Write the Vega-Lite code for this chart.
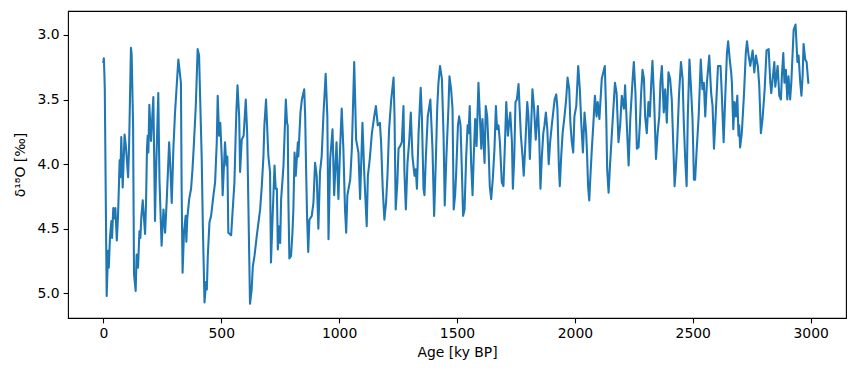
{
  "$schema": "https://vega.github.io/schema/vega-lite/v6.json",
  "width": 778,
  "height": 307,
  "autosize": {"type": "none"},
  "padding": {"left": 68, "top": 11, "right": 6, "bottom": 53},
  "background": "white",
  "config": {
    "view": {"stroke": "black", "strokeWidth": 1.1},
    "font": "DejaVu Sans",
    "axis": {
      "grid": false,
      "domain": false,
      "tickColor": "black",
      "tickWidth": 1.1,
      "tickSize": 4.9,
      "labelFont": "DejaVu Sans",
      "labelFontSize": 13.9,
      "labelColor": "black",
      "titleFont": "DejaVu Sans",
      "titleFontSize": 13.9,
      "titleFontWeight": "normal",
      "titleColor": "black"
    }
  },
  "data": {"values": [
    {"age": 0, "d18O": 3.21}, {"age": 2, "d18O": 3.18}, {"age": 4, "d18O": 3.28}, {"age": 6, "d18O": 3.41},
    {"age": 14, "d18O": 5.02}, {"age": 20, "d18O": 4.67}, {"age": 23, "d18O": 4.8}, {"age": 28, "d18O": 4.57},
    {"age": 34, "d18O": 4.44}, {"age": 37, "d18O": 4.57}, {"age": 42, "d18O": 4.34}, {"age": 46, "d18O": 4.42},
    {"age": 51, "d18O": 4.34}, {"age": 57, "d18O": 4.59}, {"age": 62, "d18O": 4.41}, {"age": 65, "d18O": 4.23},
    {"age": 69, "d18O": 3.97}, {"age": 72, "d18O": 4.1}, {"age": 76, "d18O": 3.79}, {"age": 82, "d18O": 4.18},
    {"age": 90, "d18O": 3.77}, {"age": 96, "d18O": 3.87}, {"age": 105, "d18O": 4.1}, {"age": 109, "d18O": 3.87},
    {"age": 117, "d18O": 3.1}, {"age": 120, "d18O": 3.15}, {"age": 126, "d18O": 3.69}, {"age": 130, "d18O": 4.85},
    {"age": 137, "d18O": 4.98}, {"age": 141, "d18O": 4.7}, {"age": 147, "d18O": 4.8}, {"age": 153, "d18O": 4.52},
    {"age": 157, "d18O": 4.57}, {"age": 161, "d18O": 4.41}, {"age": 167, "d18O": 4.28}, {"age": 173, "d18O": 4.44},
    {"age": 177, "d18O": 4.54}, {"age": 181, "d18O": 4.3}, {"age": 185, "d18O": 3.88}, {"age": 188, "d18O": 3.78},
    {"age": 191, "d18O": 3.91}, {"age": 195, "d18O": 3.54},
    {"age": 202, "d18O": 3.82}, {"age": 212, "d18O": 3.48}, {"age": 216, "d18O": 4.01}, {"age": 219, "d18O": 4.44},
    {"age": 223, "d18O": 4.09}, {"age": 233, "d18O": 3.45}, {"age": 238, "d18O": 4.12}, {"age": 247, "d18O": 4.63},
    {"age": 255, "d18O": 4.35}, {"age": 262, "d18O": 4.53}, {"age": 269, "d18O": 4.27}, {"age": 279, "d18O": 3.83},
    {"age": 284, "d18O": 4.01}, {"age": 290, "d18O": 4.3}, {"age": 297, "d18O": 3.88}, {"age": 304, "d18O": 3.6},
    {"age": 318, "d18O": 3.19}, {"age": 329, "d18O": 3.37}, {"age": 332, "d18O": 4.19}, {"age": 336, "d18O": 4.84},
    {"age": 342, "d18O": 4.53}, {"age": 349, "d18O": 4.4}, {"age": 352, "d18O": 4.6}, {"age": 356, "d18O": 4.42},
    {"age": 364, "d18O": 4.27}, {"age": 372, "d18O": 4.19}, {"age": 378, "d18O": 4.04}, {"age": 383, "d18O": 3.88},
    {"age": 392, "d18O": 3.55}, {"age": 400, "d18O": 3.11}, {"age": 406, "d18O": 3.16}, {"age": 410, "d18O": 3.45},
    {"age": 417, "d18O": 3.94}, {"age": 422, "d18O": 4.48}, {"age": 429, "d18O": 5.07}, {"age": 436, "d18O": 4.91},
    {"age": 439, "d18O": 4.97}, {"age": 443, "d18O": 4.71}, {"age": 450, "d18O": 4.45}, {"age": 457, "d18O": 4.4},
    {"age": 467, "d18O": 4.24}, {"age": 474, "d18O": 4.14}, {"age": 481, "d18O": 3.83}, {"age": 485, "d18O": 3.47},
    {"age": 491, "d18O": 3.78}, {"age": 496, "d18O": 3.68}, {"age": 502, "d18O": 3.94}, {"age": 506, "d18O": 4.24},
    {"age": 516, "d18O": 3.83}, {"age": 522, "d18O": 4.01}, {"age": 526, "d18O": 3.94}, {"age": 530, "d18O": 4.53},
    {"age": 542, "d18O": 4.55}, {"age": 547, "d18O": 4.4}, {"age": 556, "d18O": 4.14}, {"age": 560, "d18O": 3.86},
    {"age": 564, "d18O": 3.6}, {"age": 569, "d18O": 3.39}, {"age": 576, "d18O": 3.63}, {"age": 580, "d18O": 4.06},
    {"age": 587, "d18O": 3.81}, {"age": 595, "d18O": 3.78}, {"age": 604, "d18O": 3.5}, {"age": 610, "d18O": 3.76},
    {"age": 615, "d18O": 4.3}, {"age": 622, "d18O": 5.08}, {"age": 629, "d18O": 4.97}, {"age": 634, "d18O": 4.79},
    {"age": 641, "d18O": 4.71}, {"age": 651, "d18O": 4.55}, {"age": 658, "d18O": 4.45}, {"age": 665, "d18O": 4.35},
    {"age": 672, "d18O": 4.17}, {"age": 679, "d18O": 3.94}, {"age": 683, "d18O": 3.7}, {"age": 690, "d18O": 3.5},
    {"age": 700, "d18O": 3.94}, {"age": 707, "d18O": 4.06}, {"age": 711, "d18O": 4.76}, {"age": 718, "d18O": 4.4},
    {"age": 726, "d18O": 4.01}, {"age": 731, "d18O": 4.19}, {"age": 736, "d18O": 4.19}, {"age": 740, "d18O": 4.66},
    {"age": 745, "d18O": 4.48}, {"age": 750, "d18O": 4.61}, {"age": 754, "d18O": 4.27}, {"age": 760, "d18O": 4.12},
    {"age": 764, "d18O": 4.01}, {"age": 774, "d18O": 3.5}, {"age": 779, "d18O": 3.68}, {"age": 782, "d18O": 3.7},
    {"age": 785, "d18O": 4.3}, {"age": 789, "d18O": 4.73}, {"age": 796, "d18O": 4.71}, {"age": 802, "d18O": 4.53},
    {"age": 806, "d18O": 4.35}, {"age": 811, "d18O": 3.91}, {"age": 816, "d18O": 4.09}, {"age": 825, "d18O": 3.83},
    {"age": 827, "d18O": 3.94}, {"age": 836, "d18O": 3.6}, {"age": 842, "d18O": 3.5}, {"age": 852, "d18O": 3.42},
    {"age": 856, "d18O": 3.63}, {"age": 860, "d18O": 4.04}, {"age": 864, "d18O": 4.4}, {"age": 869, "d18O": 4.68},
    {"age": 874, "d18O": 4.43}, {"age": 884, "d18O": 4.4}, {"age": 891, "d18O": 4.3}, {"age": 898, "d18O": 3.99},
    {"age": 905, "d18O": 4.09}, {"age": 912, "d18O": 4.5}, {"age": 919, "d18O": 4.06}, {"age": 926, "d18O": 3.94},
    {"age": 934, "d18O": 3.6}, {"age": 943, "d18O": 3.3}, {"age": 950, "d18O": 3.63}, {"age": 955, "d18O": 4.58},
    {"age": 962, "d18O": 3.96}, {"age": 972, "d18O": 3.73}, {"age": 979, "d18O": 4.24}, {"age": 989, "d18O": 3.83},
    {"age": 997, "d18O": 4.27}, {"age": 1004, "d18O": 3.88}, {"age": 1011, "d18O": 3.57}, {"age": 1018, "d18O": 3.88},
    {"age": 1025, "d18O": 4.35}, {"age": 1030, "d18O": 4.53}, {"age": 1035, "d18O": 4.24}, {"age": 1047, "d18O": 4.12},
    {"age": 1054, "d18O": 3.88}, {"age": 1064, "d18O": 3.21}, {"age": 1068, "d18O": 3.5}, {"age": 1072, "d18O": 3.81},
    {"age": 1082, "d18O": 3.91}, {"age": 1089, "d18O": 4.27}, {"age": 1099, "d18O": 3.68}, {"age": 1107, "d18O": 4.09},
    {"age": 1117, "d18O": 4.48}, {"age": 1122, "d18O": 4.09}, {"age": 1130, "d18O": 3.96}, {"age": 1139, "d18O": 3.76},
    {"age": 1149, "d18O": 3.63}, {"age": 1156, "d18O": 3.55}, {"age": 1164, "d18O": 3.7}, {"age": 1173, "d18O": 3.68},
    {"age": 1178, "d18O": 3.83}, {"age": 1185, "d18O": 4.19}, {"age": 1192, "d18O": 4.43}, {"age": 1199, "d18O": 4.3},
    {"age": 1205, "d18O": 4.09}, {"age": 1212, "d18O": 3.73}, {"age": 1221, "d18O": 3.5}, {"age": 1231, "d18O": 3.33},
    {"age": 1235, "d18O": 3.63}, {"age": 1240, "d18O": 4.35}, {"age": 1247, "d18O": 4.14}, {"age": 1252, "d18O": 3.88},
    {"age": 1259, "d18O": 3.86}, {"age": 1266, "d18O": 3.83}, {"age": 1273, "d18O": 3.55}, {"age": 1277, "d18O": 4.06},
    {"age": 1283, "d18O": 4.35}, {"age": 1290, "d18O": 3.99}, {"age": 1297, "d18O": 3.83}, {"age": 1304, "d18O": 3.6},
    {"age": 1311, "d18O": 3.94}, {"age": 1320, "d18O": 4.09}, {"age": 1325, "d18O": 4.04}, {"age": 1330, "d18O": 4.19},
    {"age": 1337, "d18O": 3.76}, {"age": 1346, "d18O": 3.41}, {"age": 1351, "d18O": 3.63}, {"age": 1358, "d18O": 4.19},
    {"age": 1362, "d18O": 4.24}, {"age": 1368, "d18O": 3.94}, {"age": 1376, "d18O": 3.63}, {"age": 1387, "d18O": 3.5},
    {"age": 1396, "d18O": 3.88}, {"age": 1403, "d18O": 4.4}, {"age": 1410, "d18O": 3.99}, {"age": 1416, "d18O": 3.57},
    {"age": 1421, "d18O": 3.38}, {"age": 1428, "d18O": 3.24}, {"age": 1436, "d18O": 3.34}, {"age": 1443, "d18O": 3.78},
    {"age": 1448, "d18O": 4.32}, {"age": 1455, "d18O": 3.94}, {"age": 1464, "d18O": 3.55}, {"age": 1468, "d18O": 3.32},
    {"age": 1475, "d18O": 3.42}, {"age": 1481, "d18O": 3.57}, {"age": 1486, "d18O": 4.35}, {"age": 1492, "d18O": 4.24},
    {"age": 1496, "d18O": 4.09}, {"age": 1504, "d18O": 3.7}, {"age": 1509, "d18O": 3.63}, {"age": 1515, "d18O": 3.7},
    {"age": 1520, "d18O": 4.01}, {"age": 1526, "d18O": 4.4}, {"age": 1532, "d18O": 4.35}, {"age": 1539, "d18O": 3.94},
    {"age": 1545, "d18O": 3.7}, {"age": 1549, "d18O": 3.76}, {"age": 1554, "d18O": 3.55}, {"age": 1560, "d18O": 3.99},
    {"age": 1566, "d18O": 4.24}, {"age": 1571, "d18O": 3.94}, {"age": 1577, "d18O": 3.65}, {"age": 1583, "d18O": 3.86},
    {"age": 1591, "d18O": 3.37}, {"age": 1597, "d18O": 3.63}, {"age": 1603, "d18O": 3.88}, {"age": 1608, "d18O": 3.65},
    {"age": 1617, "d18O": 3.99}, {"age": 1622, "d18O": 3.55}, {"age": 1628, "d18O": 3.63}, {"age": 1634, "d18O": 3.88},
    {"age": 1639, "d18O": 4.17}, {"age": 1645, "d18O": 4.27}, {"age": 1652, "d18O": 4.11}, {"age": 1659, "d18O": 3.88},
    {"age": 1665, "d18O": 3.55}, {"age": 1670, "d18O": 3.73}, {"age": 1676, "d18O": 3.7}, {"age": 1682, "d18O": 3.83},
    {"age": 1690, "d18O": 4.14}, {"age": 1697, "d18O": 4.17}, {"age": 1703, "d18O": 3.86}, {"age": 1709, "d18O": 3.52},
    {"age": 1716, "d18O": 3.78}, {"age": 1720, "d18O": 3.7}, {"age": 1726, "d18O": 3.6}, {"age": 1733, "d18O": 3.83},
    {"age": 1737, "d18O": 4.19}, {"age": 1743, "d18O": 3.94}, {"age": 1748, "d18O": 3.52}, {"age": 1754, "d18O": 3.5},
    {"age": 1761, "d18O": 3.38}, {"age": 1771, "d18O": 3.78}, {"age": 1778, "d18O": 3.94}, {"age": 1783, "d18O": 4.09},
    {"age": 1789, "d18O": 3.88}, {"age": 1798, "d18O": 3.52}, {"age": 1803, "d18O": 3.63}, {"age": 1809, "d18O": 3.96},
    {"age": 1815, "d18O": 3.68}, {"age": 1820, "d18O": 3.42}, {"age": 1827, "d18O": 3.57}, {"age": 1834, "d18O": 3.81},
    {"age": 1843, "d18O": 3.55}, {"age": 1849, "d18O": 3.81}, {"age": 1854, "d18O": 4.19}, {"age": 1860, "d18O": 3.94},
    {"age": 1866, "d18O": 3.76}, {"age": 1871, "d18O": 3.7}, {"age": 1877, "d18O": 3.6}, {"age": 1883, "d18O": 3.73},
    {"age": 1889, "d18O": 4.0}, {"age": 1895, "d18O": 3.83}, {"age": 1902, "d18O": 3.7}, {"age": 1914, "d18O": 3.5},
    {"age": 1921, "d18O": 3.46}, {"age": 1926, "d18O": 3.57}, {"age": 1932, "d18O": 4.01}, {"age": 1936, "d18O": 4.17},
    {"age": 1942, "d18O": 3.94}, {"age": 1948, "d18O": 3.76}, {"age": 1956, "d18O": 3.63}, {"age": 1963, "d18O": 3.5},
    {"age": 1969, "d18O": 3.33}, {"age": 1976, "d18O": 3.42}, {"age": 1981, "d18O": 3.68}, {"age": 1987, "d18O": 3.83},
    {"age": 1993, "d18O": 3.91}, {"age": 1998, "d18O": 3.63}, {"age": 2006, "d18O": 3.55}, {"age": 2014, "d18O": 3.24},
    {"age": 2021, "d18O": 3.42}, {"age": 2027, "d18O": 3.68}, {"age": 2034, "d18O": 3.91}, {"age": 2041, "d18O": 3.6},
    {"age": 2048, "d18O": 3.76}, {"age": 2052, "d18O": 3.94}, {"age": 2056, "d18O": 4.17}, {"age": 2061, "d18O": 4.28},
    {"age": 2066, "d18O": 4.09}, {"age": 2072, "d18O": 3.88}, {"age": 2078, "d18O": 3.7}, {"age": 2085, "d18O": 3.47},
    {"age": 2092, "d18O": 3.63}, {"age": 2097, "d18O": 3.52}, {"age": 2104, "d18O": 3.65}, {"age": 2114, "d18O": 3.34},
    {"age": 2127, "d18O": 3.24}, {"age": 2133, "d18O": 3.63}, {"age": 2137, "d18O": 4.04}, {"age": 2143, "d18O": 4.22},
    {"age": 2148, "d18O": 4.04}, {"age": 2157, "d18O": 3.76}, {"age": 2164, "d18O": 3.55}, {"age": 2170, "d18O": 3.37},
    {"age": 2177, "d18O": 3.45}, {"age": 2185, "d18O": 3.83}, {"age": 2192, "d18O": 3.7}, {"age": 2199, "d18O": 3.47},
    {"age": 2208, "d18O": 3.57}, {"age": 2213, "d18O": 3.39}, {"age": 2220, "d18O": 3.68}, {"age": 2228, "d18O": 4.01},
    {"age": 2235, "d18O": 3.65}, {"age": 2244, "d18O": 3.37}, {"age": 2250, "d18O": 3.21}, {"age": 2257, "d18O": 3.45},
    {"age": 2263, "d18O": 3.88}, {"age": 2270, "d18O": 3.87}, {"age": 2276, "d18O": 3.68}, {"age": 2281, "d18O": 3.45},
    {"age": 2287, "d18O": 3.27}, {"age": 2293, "d18O": 3.34}, {"age": 2298, "d18O": 3.63}, {"age": 2305, "d18O": 3.76},
    {"age": 2312, "d18O": 3.52}, {"age": 2318, "d18O": 3.63}, {"age": 2324, "d18O": 3.37}, {"age": 2329, "d18O": 3.2},
    {"age": 2336, "d18O": 3.5}, {"age": 2344, "d18O": 3.96}, {"age": 2351, "d18O": 3.76}, {"age": 2358, "d18O": 3.63},
    {"age": 2363, "d18O": 3.37}, {"age": 2369, "d18O": 3.24}, {"age": 2377, "d18O": 3.6}, {"age": 2383, "d18O": 3.42},
    {"age": 2390, "d18O": 3.68}, {"age": 2397, "d18O": 3.29}, {"age": 2404, "d18O": 3.34}, {"age": 2411, "d18O": 3.5},
    {"age": 2418, "d18O": 3.88}, {"age": 2423, "d18O": 4.17}, {"age": 2428, "d18O": 4.04}, {"age": 2434, "d18O": 3.83},
    {"age": 2442, "d18O": 3.45}, {"age": 2450, "d18O": 3.21}, {"age": 2457, "d18O": 3.34}, {"age": 2462, "d18O": 3.68},
    {"age": 2468, "d18O": 3.96}, {"age": 2474, "d18O": 4.17}, {"age": 2479, "d18O": 3.63}, {"age": 2486, "d18O": 3.19},
    {"age": 2492, "d18O": 3.39}, {"age": 2499, "d18O": 3.65}, {"age": 2505, "d18O": 4.12}, {"age": 2510, "d18O": 4.12},
    {"age": 2516, "d18O": 3.91}, {"age": 2525, "d18O": 3.63}, {"age": 2534, "d18O": 3.19}, {"age": 2541, "d18O": 3.42},
    {"age": 2547, "d18O": 3.37}, {"age": 2553, "d18O": 3.63}, {"age": 2560, "d18O": 3.37}, {"age": 2570, "d18O": 3.16},
    {"age": 2578, "d18O": 3.45}, {"age": 2584, "d18O": 3.55}, {"age": 2590, "d18O": 3.88}, {"age": 2597, "d18O": 3.63},
    {"age": 2607, "d18O": 3.24}, {"age": 2618, "d18O": 3.24}, {"age": 2623, "d18O": 3.45}, {"age": 2631, "d18O": 3.83},
    {"age": 2638, "d18O": 3.47}, {"age": 2645, "d18O": 3.14}, {"age": 2650, "d18O": 3.05}, {"age": 2658, "d18O": 3.21},
    {"age": 2663, "d18O": 3.29}, {"age": 2666, "d18O": 3.37}, {"age": 2672, "d18O": 3.73}, {"age": 2677, "d18O": 3.52},
    {"age": 2683, "d18O": 3.63}, {"age": 2689, "d18O": 3.47}, {"age": 2694, "d18O": 3.78}, {"age": 2697, "d18O": 3.7},
    {"age": 2701, "d18O": 3.87}, {"age": 2708, "d18O": 3.76}, {"age": 2717, "d18O": 3.47}, {"age": 2725, "d18O": 3.14},
    {"age": 2730, "d18O": 3.05}, {"age": 2737, "d18O": 3.16}, {"age": 2744, "d18O": 3.24}, {"age": 2754, "d18O": 3.12},
    {"age": 2761, "d18O": 3.29}, {"age": 2768, "d18O": 3.16}, {"age": 2776, "d18O": 3.24}, {"age": 2782, "d18O": 3.39},
    {"age": 2789, "d18O": 3.76}, {"age": 2796, "d18O": 3.65}, {"age": 2805, "d18O": 3.42}, {"age": 2813, "d18O": 3.12},
    {"age": 2822, "d18O": 3.11}, {"age": 2829, "d18O": 3.37}, {"age": 2833, "d18O": 3.45}, {"age": 2846, "d18O": 3.21},
    {"age": 2850, "d18O": 3.4}, {"age": 2860, "d18O": 3.24}, {"age": 2867, "d18O": 3.47}, {"age": 2874, "d18O": 3.5},
    {"age": 2878, "d18O": 3.32}, {"age": 2884, "d18O": 3.14}, {"age": 2889, "d18O": 3.37}, {"age": 2895, "d18O": 3.27},
    {"age": 2901, "d18O": 3.5}, {"age": 2906, "d18O": 3.32}, {"age": 2913, "d18O": 3.5}, {"age": 2918, "d18O": 3.37},
    {"age": 2928, "d18O": 2.96}, {"age": 2936, "d18O": 2.92}, {"age": 2944, "d18O": 3.21}, {"age": 2949, "d18O": 3.16},
    {"age": 2956, "d18O": 3.37}, {"age": 2961, "d18O": 3.47}, {"age": 2966, "d18O": 3.32}, {"age": 2970, "d18O": 3.07},
    {"age": 2977, "d18O": 3.19}, {"age": 2983, "d18O": 3.21}, {"age": 2990, "d18O": 3.37}
  ]},
  "mark": {"type": "line", "color": "#1f77b4", "strokeWidth": 2.08, "strokeJoin": "round", "strokeCap": "square", "clip": true},
  "encoding": {
    "x": {
      "field": "age", "type": "quantitative",
      "scale": {"domain": [-150, 3150], "nice": false, "zero": false},
      "axis": {"values": [0, 500, 1000, 1500, 2000, 2500, 3000], "format": "d", "labelPadding": 4, "titlePadding": 5, "title": "Age [ky BP]"}
    },
    "y": {
      "field": "d18O", "type": "quantitative",
      "scale": {"domain": [2.815, 5.19], "reverse": true, "nice": false, "zero": false},
      "axis": {"values": [3.0, 3.5, 4.0, 4.5, 5.0], "format": ".1f", "labelPadding": 4, "titlePadding": 10, "title": "δ¹⁸O [‰]"}
    }
  }
}
